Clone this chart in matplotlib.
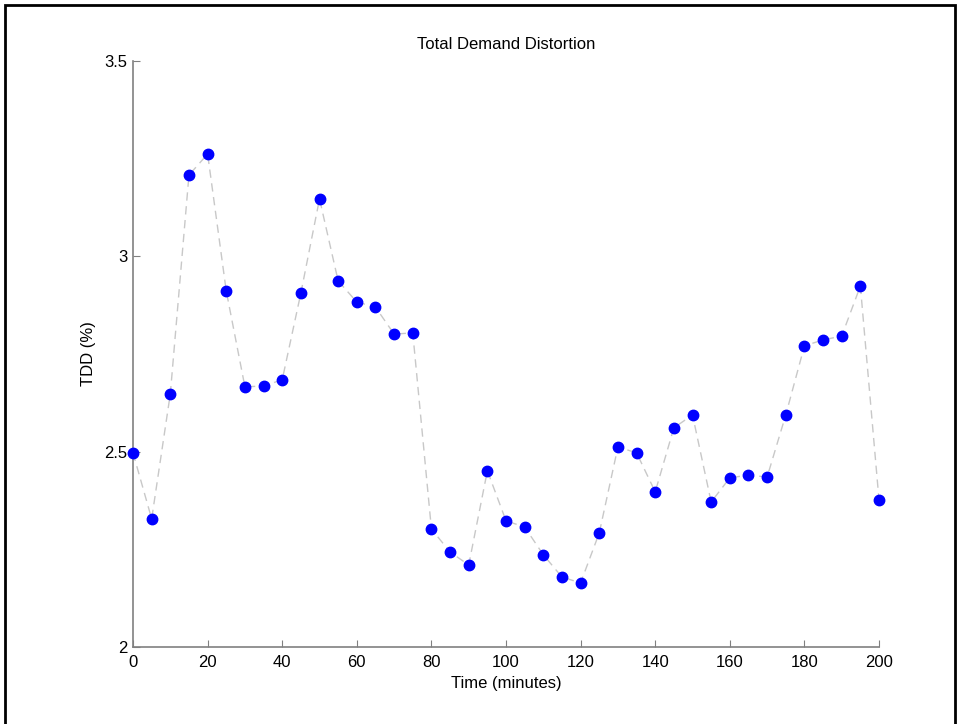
import matplotlib.pyplot as plt
import matplotlib.patches as patches

# time in minutes and total demand distortion (%)
time_min = [0, 5, 10, 15, 20, 25, 30, 35, 40, 45, 50, 55, 60, 65, 70, 75, 80, 85, 90, 95, 100,
            105, 110, 115, 120, 125, 130, 135, 140, 145, 150, 155, 160, 165, 170, 175, 180, 185,
            190, 195, 200]
tdd = [2.497, 2.328, 2.648, 3.208, 3.262, 2.911, 2.666, 2.668, 2.684, 2.906, 3.147, 2.937, 2.883,
       2.870, 2.801, 2.804, 2.302, 2.243, 2.210, 2.451, 2.323, 2.307, 2.236, 2.179, 2.164, 2.292,
       2.512, 2.497, 2.397, 2.561, 2.594, 2.371, 2.433, 2.440, 2.435, 2.594, 2.771, 2.786, 2.796,
       2.924, 2.376]
xticks = [0, 20, 40, 60, 80, 100, 120, 140, 160, 180, 200]
yticks = [2, 2.5, 3, 3.5]
ytick_labels = ['2', '2.5', '3', '3.5']

plt.rcParams['font.family'] = ['Liberation Sans', 'DejaVu Sans']
plt.rcParams['font.size'] = 12

fig = plt.figure(figsize=(9.59, 7.24), dpi=100)
ax = fig.add_axes([0.1387, 0.1064, 0.9166 - 0.1387, 0.9157 - 0.1064])

ax.plot(time_min, tdd, linestyle='--', color='#c8c8c8', linewidth=1, dashes=(6, 4), zorder=1)
ax.plot(time_min, tdd, linestyle='none', marker='o', markersize=7.5, clip_on=False,
        markerfacecolor='#0000ff', markeredgecolor='#0000ff', zorder=3)

ax.set_xlim(0, 200)
ax.set_ylim(2, 3.5)
ax.set_xticks(xticks)
ax.set_yticks(yticks)
ax.set_yticklabels(ytick_labels)

ax.spines['top'].set_visible(False)
ax.spines['right'].set_visible(False)
for s in ['left', 'bottom']:
    ax.spines[s].set_color('#808080')
    ax.spines[s].set_linewidth(1.2)
ax.tick_params(direction='in', length=5, color='#808080', labelcolor='black', pad=4)
ax.tick_params(axis='x', pad=6)

ax.set_title('Total Demand Distortion', fontsize=12, pad=9)
ax.set_xlabel('Time (minutes)', labelpad=4)
ax.set_ylabel('TDD (%)', labelpad=6)

# black frame around the picture (bottom edge falls outside the image)
frame = patches.Rectangle((5 / 959, -0.05), (955 - 5) / 959, 1 - 5 / 724 + 0.05,
                          transform=fig.transFigure, fill=False, edgecolor='black',
                          linewidth=2, clip_on=False)
fig.patches.append(frame)

fig.savefig('out.png', dpi=100)
